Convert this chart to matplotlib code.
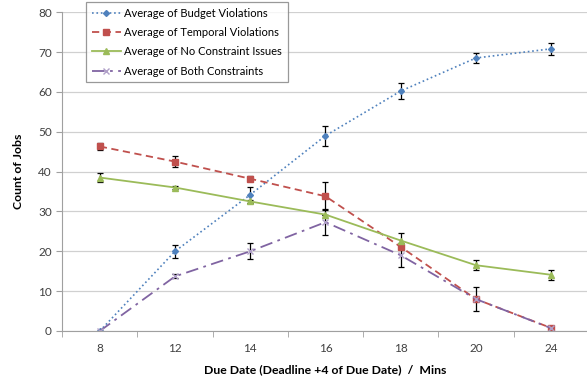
import matplotlib
matplotlib.use("Agg")
import matplotlib.pyplot as plt
import numpy as np

plt.rcParams['font.family'] = ['Lato', 'DejaVu Sans']

# data
due_dates = ["8", "12", "14", "16", "18", "20", "24"]

budget = [0, 20, 34.2, 49, 60.2, 68.5, 70.8]
budget_err = [0, 1.7, 2.0, 2.5, 2.0, 1.3, 1.5]

temporal = [46.3, 42.5, 38.2, 33.8, 21.1, 8.0, 0.75]
temporal_err = [0.9, 1.4, 0.6, 3.5, 0, 3.0, 0]

no_constraint = [38.5, 36.0, 32.5, 29.2, 22.7, 16.5, 14.1]
no_constraint_err = [1.2, 0.3, 0.3, 0, 2.0, 1.3, 1.3]

both = [0, 13.7, 20, 27.3, 19, 8.0, 0.7]
both_err = [0, 0.5, 2.0, 3.3, 3.0, 0, 0]

fig = plt.figure(figsize=(5.87, 3.8), dpi=100)
ax = fig.add_axes([0.106, 0.129, 0.897, 0.839])

x = np.arange(len(due_dates))
eb = dict(ecolor='black', elinewidth=0.9, capsize=2, capthick=0.9)

c1 = ax.errorbar(x, budget, yerr=budget_err, color='#4F81BD', linestyle=':', linewidth=1.2,
                 marker='D', markersize=3, label='Average of Budget Violations', **eb)
c2 = ax.errorbar(x, temporal, yerr=temporal_err, color='#C0504D', linestyle=(0, (4, 2.5)), linewidth=1.3,
                 marker='s', markersize=5, label='Average of Temporal Violations', **eb)
c3 = ax.errorbar(x, no_constraint, yerr=no_constraint_err, color='#9BBB59', linestyle='-', linewidth=1.3,
                 marker='^', markersize=4.5, label='Average of No Constraint Issues', **eb)
c4 = ax.errorbar(x, both, yerr=both_err, color='#8064A2', linestyle=(0, (7, 3, 1.5, 3)), linewidth=1.3,
                 marker='x', markersize=4, markeredgecolor='#B0A0C8', label='Average of Both Constraints', **eb)

ax.set_xlim(-0.5, len(due_dates) - 0.5)
ax.set_ylim(0, 80)
ax.set_yticks(range(0, 81, 10))
ax.set_xticks(x)
ax.set_xticklabels(due_dates)
ax.set_xticks(np.arange(-0.5, len(due_dates), 1), minor=True)
ax.tick_params(axis='x', which='major', length=0, pad=9, labelsize=8.5, colors='#404040')
ax.tick_params(axis='x', which='minor', length=4, color='#A0A0A0')
ax.tick_params(axis='y', length=4, color='#A0A0A0', labelsize=8.5, labelcolor='#404040')

ax.grid(axis='y', color='#D0D0D0', linewidth=0.9)
ax.set_axisbelow(True)
for side in ['top', 'right']:
    ax.spines[side].set_visible(False)
ax.spines['left'].set_color('#A0A0A0')
ax.spines['bottom'].set_color('#A0A0A0')

ax.set_xlabel('Due Date (Deadline +4 of Due Date)  /  Mins', fontsize=8.8, fontweight='bold', labelpad=7)
ax.set_ylabel('Count of Jobs', fontsize=8.8, fontweight='bold', labelpad=10)

handles = [c[0] for c in (c1, c2, c3, c4)]
labels = [c.get_label() for c in (c1, c2, c3, c4)]
leg = ax.legend(handles, labels, loc='upper left', bbox_to_anchor=(0.046, 1.032), fontsize=8, frameon=True,
                fancybox=False, edgecolor='#808080', handlelength=2.6, borderpad=0.5,
                labelspacing=0.75, handletextpad=0.3, borderaxespad=0)
leg.get_frame().set_linewidth(0.9)
leg.set_zorder(5)

fig.savefig('out.png', dpi=100)
